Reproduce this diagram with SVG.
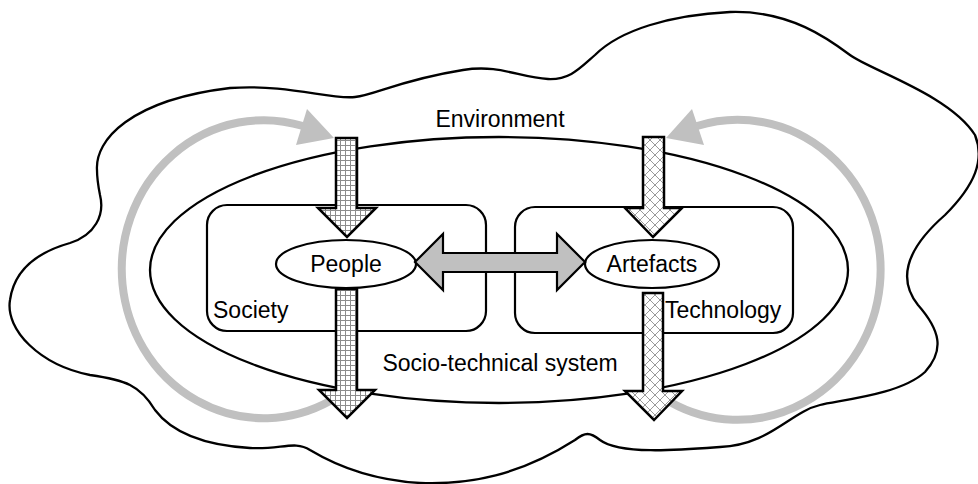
<svg xmlns="http://www.w3.org/2000/svg" width="978" height="484" viewBox="0 0 978 484">
  <style>
    .outline { fill: none; stroke: #000; stroke-width: 2.3; }
    .box { fill: none; stroke: #000; stroke-width: 2.2; }
    .node { fill: #fff; stroke: #000; stroke-width: 2.2; }
    .loop { fill: none; stroke: #c0c0c0; stroke-width: 8; }
    .loophead { fill: #c0c0c0; stroke: none; }
    .flow { stroke: #000; stroke-width: 2.5; stroke-linejoin: miter; }
    .link { fill: #c0c0c0; stroke: #000; stroke-width: 2.2; }
    text { font-family: "Liberation Sans", Arial, sans-serif; font-size: 23px; fill: #000; }
  </style>
  <defs>
    <pattern id="grid" width="5" height="5" patternUnits="userSpaceOnUse">
      <rect width="5" height="5" fill="#fff"/>
      <path d="M0 0.5 H5 M0.5 0 V5" stroke="#8c8c8c" stroke-width="1" fill="none"/>
    </pattern>
    <pattern id="hatch" width="10" height="10" patternUnits="userSpaceOnUse">
      <rect width="10" height="10" fill="#fff"/>
      <path d="M0 0 L10 10 M10 0 L0 10" stroke="#9a9a9a" stroke-width="1" fill="none"/>
    </pattern>
  </defs>

  <!-- environment boundary -->
  <g id="environment">
    <path class="outline" d="M97 170 C95 140,130 100,230 88 C290 84,330 100,355 97 C375 95,400 80,463 70 C500 64,520 78,548 79 C570 80,580 68,595 55 C620 30,670 15,730 12 C790 10,830 40,850 55 C870 70,950 95,975 135 C985 160,975 185,945 215 C905 250,898 280,918 305 C940 330,945 350,925 372 C900 395,840 400,820 405 C790 412,770 445,720 447 C680 450,620 455,600 440 C590 432,585 432,575 440 C520 475,470 485,420 483 C370 480,335 465,310 450 C295 440,280 450,250 448 C200 445,170 430,155 410 C140 385,125 380,90 375 C40 365,5 330,10 300 C15 265,45 250,70 243 C95 235,105 215,100 195 C98 185,97 178,97 170 Z"/>
    <text x="500" y="127" text-anchor="middle">Environment</text>
  </g>

  <!-- socio-technical system boundary -->
  <g id="system">
    <ellipse class="outline" cx="499" cy="270" rx="349" ry="133"/>
    <text x="500" y="371" text-anchor="middle">Socio-technical system</text>
  </g>

  <g id="society">
    <rect class="box" x="207" y="205" width="279" height="126" rx="20"/>
    <text x="213" y="318">Society</text>
  </g>

  <g id="technology">
    <rect class="box" x="515" y="207" width="278" height="126" rx="20"/>
    <text x="665" y="318">Technology</text>
  </g>

  <g id="people">
    <ellipse class="node" cx="346" cy="264" rx="70" ry="24"/>
    <text x="346" y="272" text-anchor="middle">People</text>
  </g>

  <g id="artefacts">
    <ellipse class="node" cx="652" cy="264" rx="67" ry="24"/>
    <text x="652" y="272" text-anchor="middle">Artefacts</text>
  </g>

  <g id="connectors">
    <!-- feedback loops through the environment -->
    <path class="loop" d="M330 401 A142 149 0 1 1 303 126"/>
    <polygon class="loophead" points="334,138 307,109 296,145"/>
    <path class="loop" d="M670 402 A143 150 0 1 0 697 126"/>
    <polygon class="loophead" points="666,138 692,109 704,145"/>

    <!-- interaction between people and artefacts -->
    <polygon class="link" points="415,262 443,234 443,253 557,253 557,234 585,262 557,290 557,272 443,272 443,290"/>

    <!-- flows into and out of people -->
    <polygon class="flow" fill="url(#grid)" points="336,138 357,138 357,208 376,208 347,237 318,208 336,208"/>
    <polygon class="flow" fill="url(#grid)" points="336,289 357,289 357,390 375,390 347,418 319,390 336,390"/>

    <!-- flows into and out of artefacts -->
    <polygon class="flow" fill="url(#hatch)" points="643,137 664,137 664,208 682,208 653,237 625,208 643,208"/>
    <polygon class="flow" fill="url(#hatch)" points="643,293 663,293 663,391 682,391 654,420 625,391 643,391"/>
  </g>
</svg>
